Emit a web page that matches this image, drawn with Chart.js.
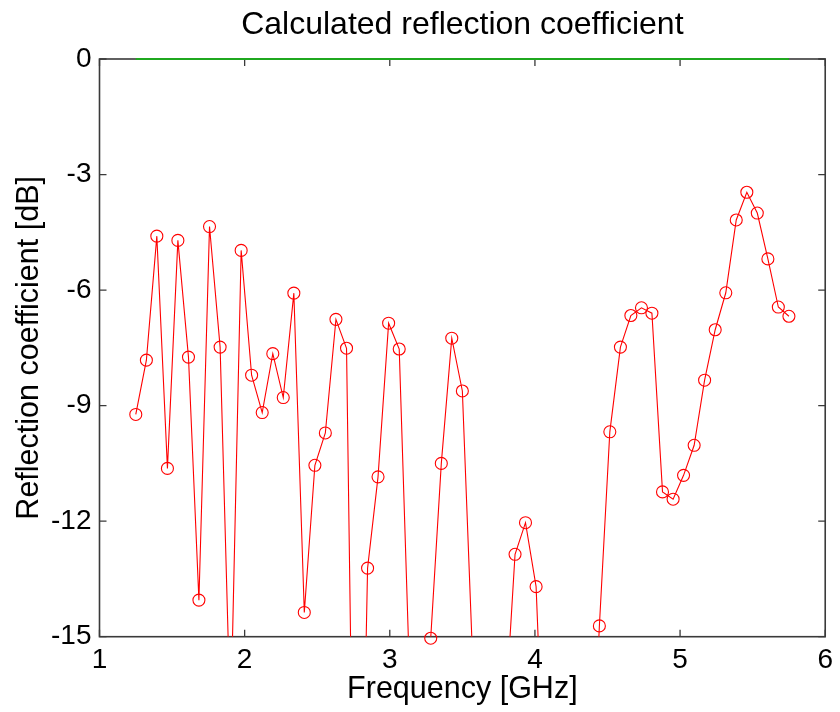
<!DOCTYPE html>
<html>
<head>
<meta charset="utf-8">
<title>Calculated reflection coefficient</title>
<style>
  html, body { margin: 0; padding: 0; background: #ffffff; }
  #wrap { width: 840px; height: 712px; }
</style>
<script src="https://cdn.jsdelivr.net/npm/chart.js@4.4.1/dist/chart.umd.min.js"></script>
</head>
<body>
<div id="wrap"><canvas id="c" width="840" height="712"></canvas></div>
<script>
// Sweep frequencies [GHz]
const frequencyGHz = [
  1.250, 1.323, 1.395, 1.468, 1.540, 1.613, 1.685, 1.758, 1.831, 1.903,
  1.976, 2.048, 2.121, 2.194, 2.266, 2.339, 2.411, 2.484, 2.556, 2.629,
  2.702, 2.774, 2.847, 2.919, 2.992, 3.065, 3.137, 3.210, 3.282, 3.355,
  3.427, 3.500, 3.573, 3.645, 3.718, 3.790, 3.863, 3.935, 4.008, 4.081,
  4.153, 4.226, 4.298, 4.371, 4.444, 4.516, 4.589, 4.661, 4.734, 4.806,
  4.879, 4.952, 5.024, 5.097, 5.169, 5.242, 5.315, 5.387, 5.460, 5.532,
  5.605, 5.677, 5.750
];

// Calculated reflection coefficient [dB]
const reflectionDb = [
  -9.23, -7.82, -4.60, -10.63, -4.71, -7.74, -14.05, -4.35, -7.48, -17.3,
  -4.97, -8.21, -9.18, -7.65, -8.79, -6.08, -14.37, -10.55, -9.71, -6.76,
  -7.51, -27.0, -13.22, -10.85, -6.86, -7.53, -16.1, -19.0, -15.04, -10.50,
  -7.25, -8.62, -15.8, -21.0, -24.0, -17.4, -12.86, -12.04, -13.70, -20.6,
  -26.0, -30.0, -27.0, -21.0, -14.72, -9.68, -7.48, -6.66, -6.46, -6.60,
  -11.24, -11.43, -10.81, -10.03, -8.34, -7.03, -6.07, -4.18, -3.46, -4.00,
  -5.19, -6.44, -6.68
];

// 0 dB reference level over the sweep
const referenceFreqGHz = [1.25, 5.75];
const referenceDb = [0, 0];

// Axis ticks
const xTickValues = [1, 2, 3, 4, 5, 6];
const yTickValues = [0, -3, -6, -9, -12, -15];

const toPoints = (xs, ys) => xs.map((x, i) => ({ x: x, y: ys[i] }));

const FONT = '"Liberation Sans", Arial, Helvetica, sans-serif';
const FRAME = '#3a3a3a';

// Box around the plot with inward tick marks on all four sides
const axesBox = {
  id: 'axesBox',
  beforeDatasetsDraw(chart) {
    const { ctx, chartArea: a, scales } = chart;
    const len = 7;
    ctx.save();
    ctx.strokeStyle = FRAME;
    ctx.lineWidth = 1.6;
    ctx.strokeRect(a.left, a.top, a.right - a.left, a.bottom - a.top);
    ctx.lineWidth = 1.3;
    ctx.beginPath();
    scales.x.ticks.forEach(t => {
      const px = scales.x.getPixelForValue(t.value);
      ctx.moveTo(px, a.bottom); ctx.lineTo(px, a.bottom - len);
      ctx.moveTo(px, a.top);    ctx.lineTo(px, a.top + len);
    });
    scales.y.ticks.forEach(t => {
      const py = scales.y.getPixelForValue(t.value);
      ctx.moveTo(a.left, py);  ctx.lineTo(a.left + len, py);
      ctx.moveTo(a.right, py); ctx.lineTo(a.right - len, py);
    });
    ctx.stroke();
    ctx.restore();
  }
};

new Chart(document.getElementById('c'), {
  type: 'line',
  data: {
    datasets: [
      {
        label: 'markers',
        data: toPoints(frequencyGHz, reflectionDb),
        showLine: false,
        borderColor: '#ff0000',
        pointStyle: 'circle',
        pointRadius: c => (c.raw && c.raw.y < -15.2 ? 0 : 6),
        pointBorderWidth: 1.1,
        pointBorderColor: '#ff0000',
        pointBackgroundColor: 'rgba(0,0,0,0)',
        clip: false
      },
      {
        label: 'reflection',
        data: toPoints(frequencyGHz, reflectionDb),
        borderColor: '#ff0000',
        borderWidth: 1.1,
        pointRadius: 0,
        tension: 0
      },
      {
        label: 'reference',
        data: toPoints(referenceFreqGHz, referenceDb),
        borderColor: '#1fa81f',
        borderWidth: 2,
        pointRadius: 0,
        clip: false
      }
    ]
  },
  options: {
    responsive: false,
    animation: false,
    devicePixelRatio: 1,
    layout: { padding: { left: 0, right: 6.7, top: 0, bottom: 0 } },
    plugins: {
      legend: { display: false },
      tooltip: { enabled: false },
      title: {
        display: true,
        text: 'Calculated reflection coefficient',
        fullSize: false,
        color: '#000',
        font: { family: FONT, size: 32, weight: 'normal' },
        padding: { top: 5.8, bottom: 14.8 }
      }
    },
    scales: {
      x: {
        type: 'linear',
        min: 1, max: 6,
        afterBuildTicks: s => { s.ticks = xTickValues.map(v => ({ value: v })); },
        afterFit: s => { s.height = 75.3; },
        grid: { display: false, drawTicks: false },
        border: { display: false },
        ticks: {
          color: '#000',
          padding: 7,
          maxRotation: 0,
          font: { family: FONT, size: 28 },
          callback: v => String(v)
        },
        title: {
          display: true,
          text: 'Frequency [GHz]',
          color: '#000',
          font: { family: FONT, size: 30.5 },
          padding: { top: 0, bottom: 3.7 }
        }
      },
      y: {
        type: 'linear',
        min: -15, max: 0,
        afterBuildTicks: s => { s.ticks = yTickValues.map(v => ({ value: v })); },
        afterFit: s => { s.width = 99.5; },
        grid: { display: false, drawTicks: false },
        border: { display: false },
        ticks: {
          color: '#000',
          padding: 8,
          font: { family: FONT, size: 28 },
          callback: v => String(v)
        },
        title: {
          display: true,
          text: 'Reflection coefficient [dB]',
          color: '#000',
          font: { family: FONT, size: 30.5 },
          padding: { top: 11.7, bottom: 0 }
        }
      }
    }
  },
  plugins: [axesBox]
});
</script>
</body>
</html>
